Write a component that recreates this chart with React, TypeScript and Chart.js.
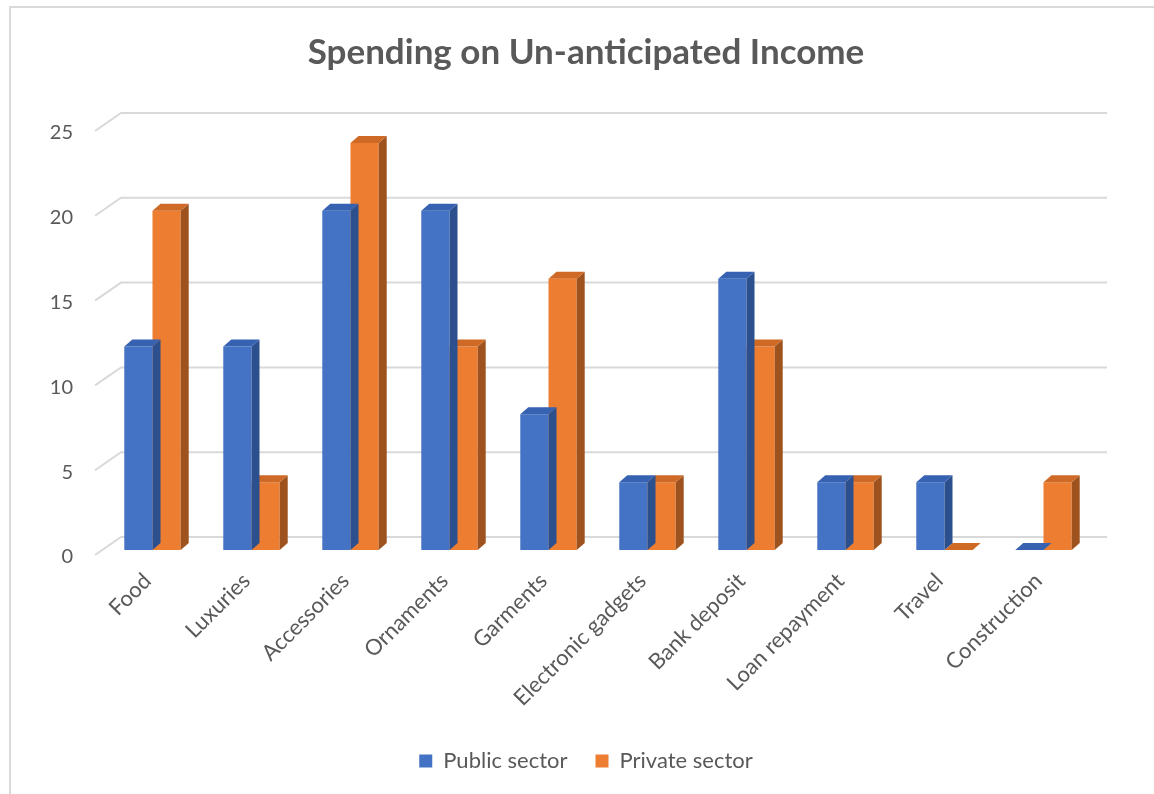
import React, { useEffect, useRef } from "react";
import { Chart, registerables } from "chart.js";

Chart.register(...registerables);

const categories = [
  "Food",
  "Luxuries",
  "Accessories",
  "Ornaments",
  "Garments",
  "Electronic gadgets",
  "Bank deposit",
  "Loan repayment",
  "Travel",
  "Construction",
];
const publicSector = [12, 12, 20, 20, 8, 4, 16, 4, 4, 0];
const privateSector = [20, 4, 24, 12, 16, 4, 12, 4, 0, 4];
const yTicks = [0, 5, 10, 15, 20, 25];

const FONT = "Lato, 'Open Sans', sans-serif";
const TEXT = "#595959";
const DX = 8;
const DY = 7;
const PAD_L = 18;

const faceColors: Record<number, { top: string; side: string }> = {
  0: { top: "#3762b2", side: "#2c4f8e" },
  1: { top: "#cf6a26", side: "#9e521d" },
};

const borderPlugin = {
  id: "outerBorder",
  beforeDraw(chart: any) {
    const ctx = chart.ctx;
    ctx.save();
    ctx.fillStyle = "#ffffff";
    ctx.fillRect(0, 0, chart.width, chart.height);
    ctx.strokeStyle = "#d9d9d9";
    ctx.lineWidth = 2;
    ctx.beginPath();
    ctx.moveTo(10, chart.height);
    ctx.lineTo(10, 7);
    ctx.lineTo(chart.width, 7);
    ctx.stroke();
    ctx.restore();
  },
};

const gridPlugin = {
  id: "grid3d",
  beforeDatasetsDraw(chart: any) {
    const ctx = chart.ctx;
    const ys = chart.scales.y;
    const left = chart.chartArea.left;
    const right = chart.chartArea.right;
    ctx.save();
    ctx.strokeStyle = "#d9d9d9";
    ctx.lineWidth = 2;
    yTicks.forEach((v) => {
      const yb = ys.getPixelForValue(v) - 13;
      ctx.beginPath();
      ctx.moveTo(left - 8, yb + 18);
      ctx.lineTo(left + 18, yb);
      ctx.lineTo(right + 14, yb);
      ctx.stroke();
    });
    ctx.restore();
  },
};

const bar3dPlugin = {
  id: "bar3d",
  afterDatasetDraw(chart: any, args: any) {
    const ctx = chart.ctx;
    const meta = args.meta;
    const c = faceColors[args.index];
    ctx.save();
    meta.data.forEach((el: any) => {
      const { x, y, base, width } = el.getProps(["x", "y", "base", "width"], true);
      const l = x - width / 2;
      const r = x + width / 2;
      if (base - y > 0) {
        ctx.fillStyle = c.side;
        ctx.beginPath();
        ctx.moveTo(r, y);
        ctx.lineTo(r + DX, y - DY);
        ctx.lineTo(r + DX, base - DY);
        ctx.lineTo(r, base);
        ctx.closePath();
        ctx.fill();
      }
      ctx.fillStyle = c.top;
      ctx.beginPath();
      ctx.moveTo(l, y);
      ctx.lineTo(l + DX, y - DY);
      ctx.lineTo(r + DX, y - DY);
      ctx.lineTo(r, y);
      ctx.closePath();
      ctx.fill();
    });
    ctx.restore();
  },
};

export default function App() {
  const ref = useRef<HTMLCanvasElement | null>(null);

  useEffect(() => {
    document.body.style.margin = "0";
    const canvas = ref.current;
    if (!canvas) return;
    const chart = new Chart(canvas, {
      type: "bar",
      data: {
        labels: categories,
        datasets: [
          {
            label: "Public sector",
            data: publicSector,
            backgroundColor: "#4472c4",
            borderWidth: 0,
            barPercentage: 1,
            categoryPercentage: 0.57,
          },
          {
            label: "Private sector",
            data: privateSector,
            backgroundColor: "#ed7d31",
            borderWidth: 0,
            barPercentage: 1,
            categoryPercentage: 0.57,
          },
        ],
      },
      options: {
        animation: false,
        responsive: false,
        maintainAspectRatio: false,
        layout: { padding: { left: PAD_L, right: 0, top: 0, bottom: 12 } },
        plugins: {
          title: {
            display: true,
            text: "Spending on Un-anticipated Income",
            color: TEXT,
            font: { family: FONT, size: 35, weight: "bold" },
            padding: { top: 32, bottom: 52 },
          },
          legend: {
            position: "bottom",
            labels: {
              color: TEXT,
              font: { family: FONT, size: 22 },
              boxWidth: 13,
              boxHeight: 13,
              padding: 28,
            },
          },
          tooltip: { enabled: false },
        },
        scales: {
          x: {
            grid: { display: false, drawTicks: false },
            border: { display: false },
            ticks: {
              color: TEXT,
              font: { family: FONT, size: 22 },
              minRotation: 45,
              maxRotation: 45,
              padding: 18,
              labelOffset: -5,
              autoSkip: false,
            },
            afterFit(scale: any) {
              scale.height = 172;
              scale.paddingLeft = 0;
              scale.paddingRight = 61;
            },
          },
          y: {
            min: 0,
            max: 25,
            grid: { display: false, drawTicks: false },
            border: { display: false },
            ticks: {
              stepSize: 5,
              color: TEXT,
              font: { family: FONT, size: 20 },
              padding: 30,
              labelOffset: 7,
            },
            afterFit(scale: any) {
              scale.width = 103 - PAD_L;
            },
          },
        },
      },
      plugins: [borderPlugin, gridPlugin, bar3dPlugin],
    });
    return () => chart.destroy();
  }, []);

  return (
    <div style={{ position: "relative", width: 1154, height: 794 }}>
      <canvas ref={ref} width={1154} height={794} style={{ display: "block" }} />
    </div>
  );
}
